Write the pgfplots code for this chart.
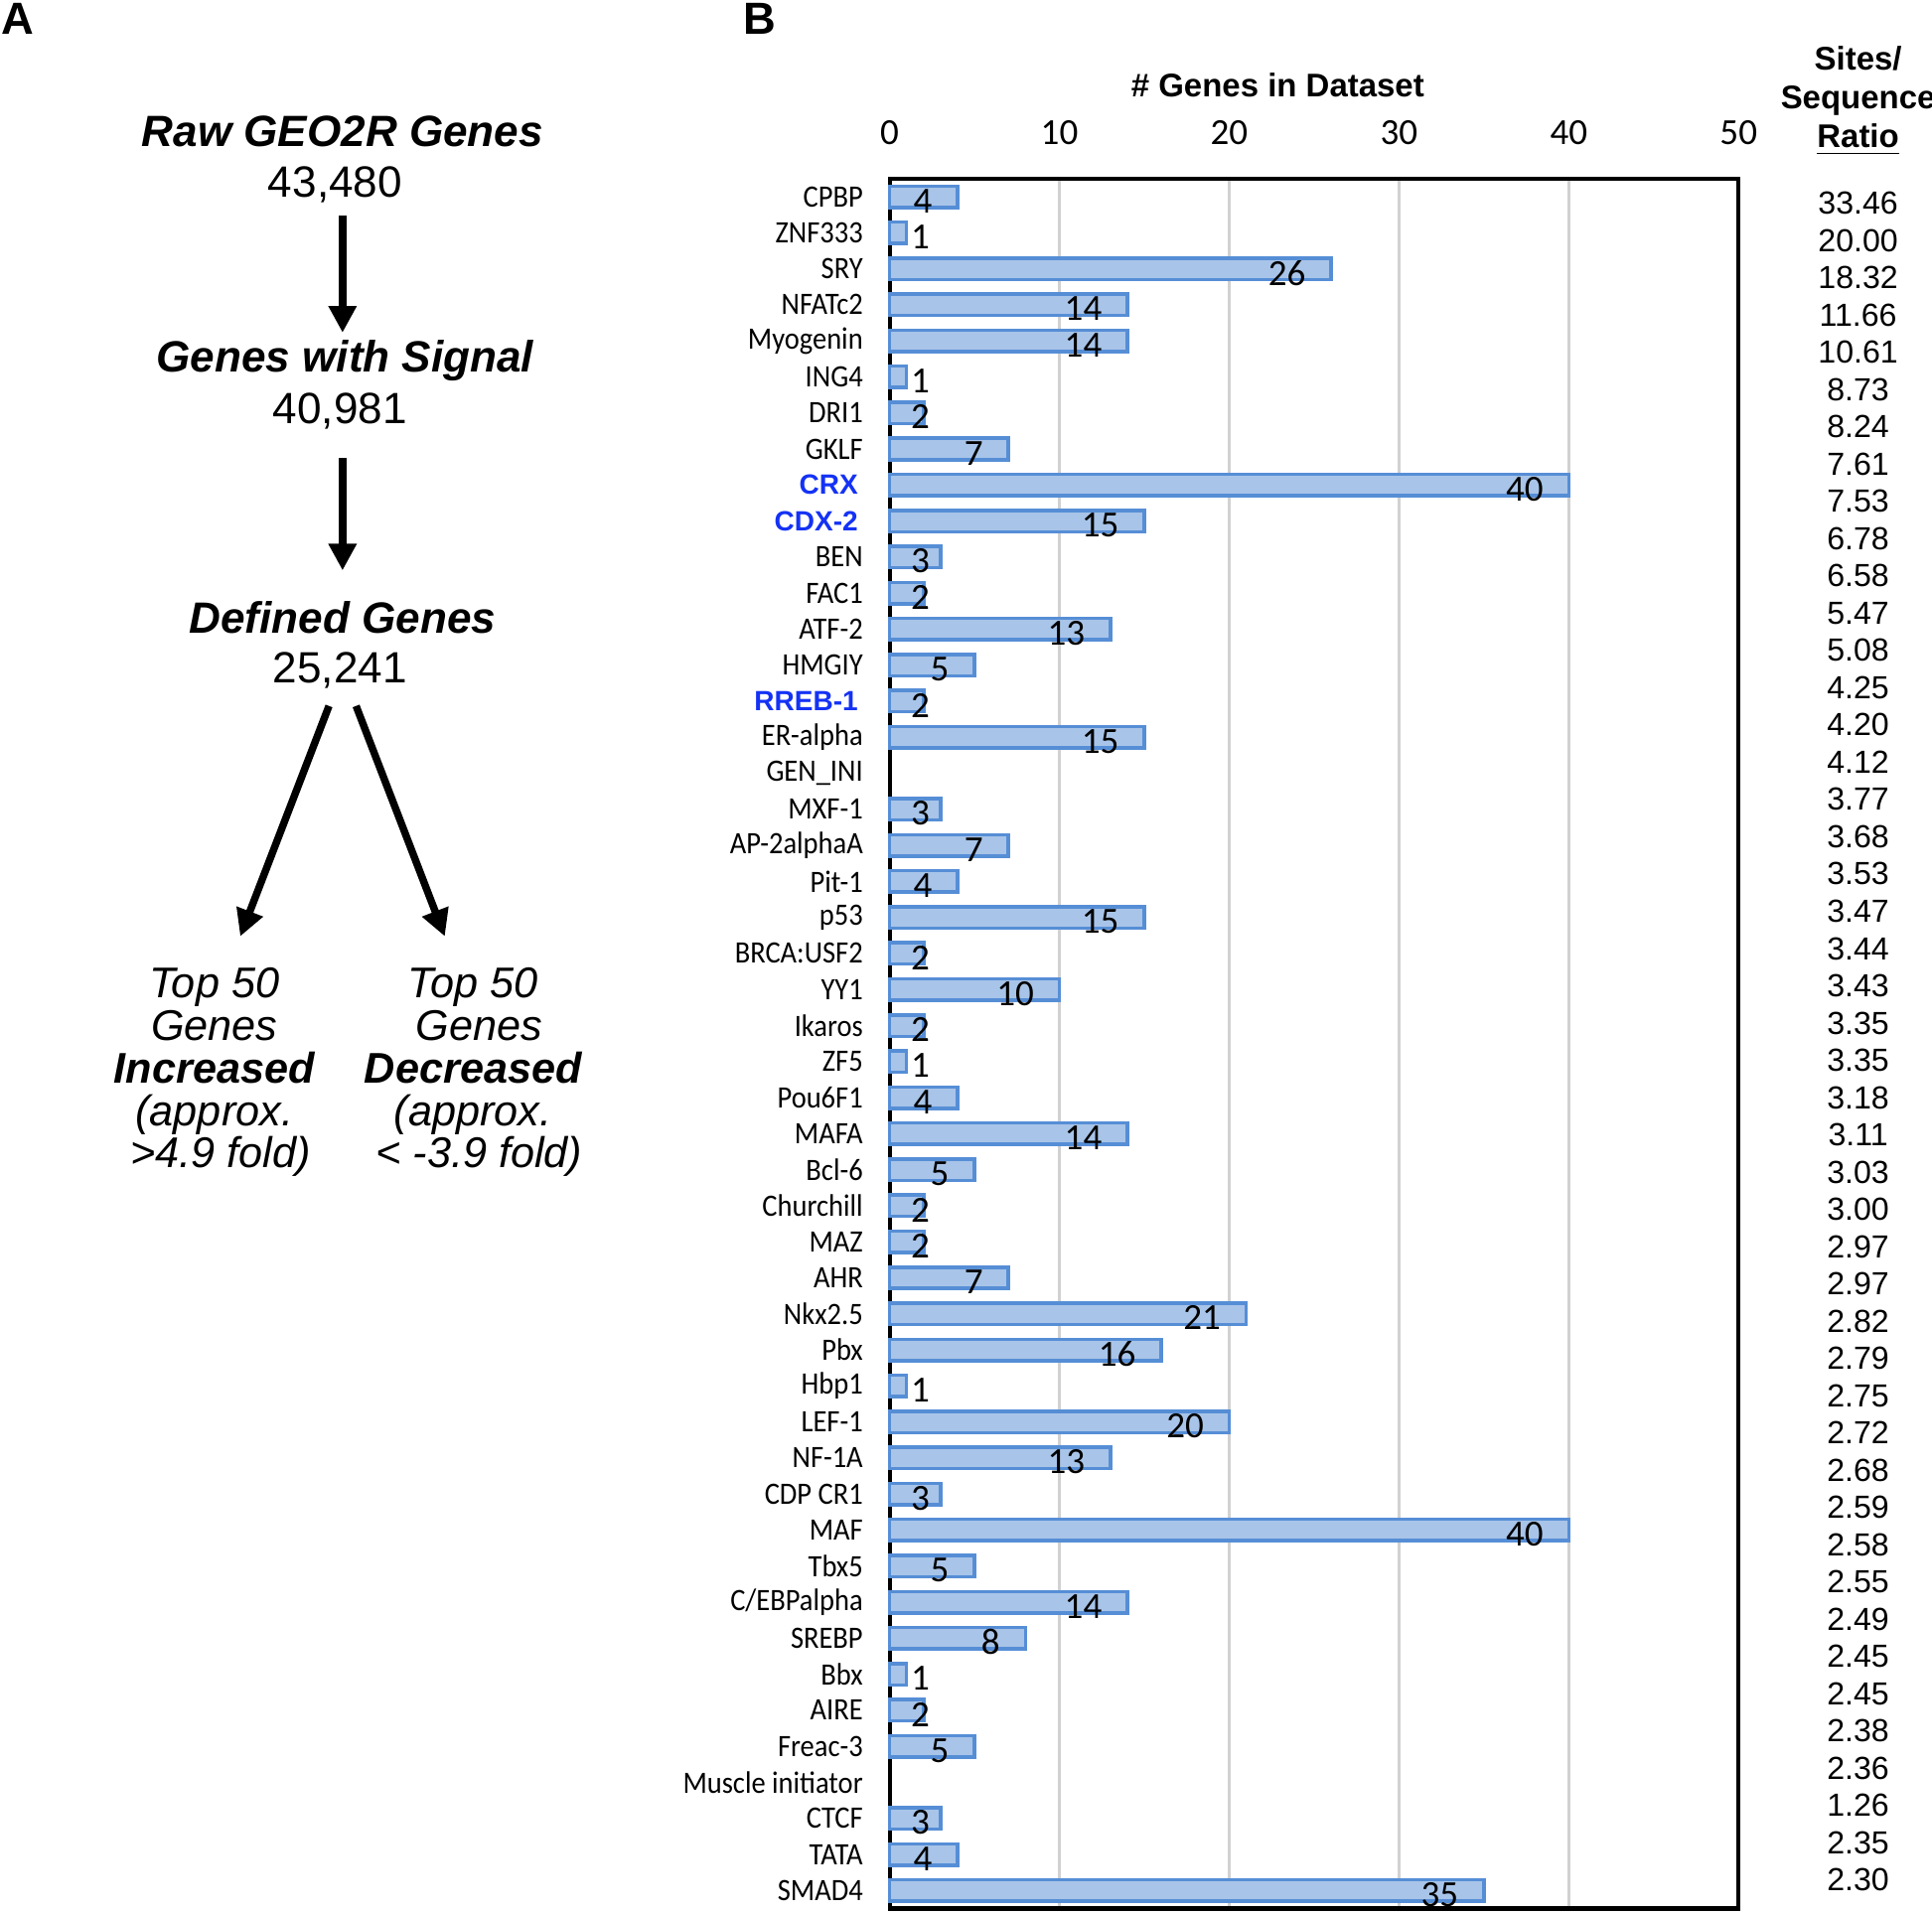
\documentclass[border=0pt]{standalone}
\usepackage{pgfplots}
\pgfplotsset{compat=1.18}
\usepackage{pgfplotstable}
\usetikzlibrary{arrows.meta}
\usepackage{fontspec}
\setmainfont{Liberation Sans}
\newfontfamily\calib{Carlito}
\newfontfamily\calibn[FakeStretch=0.91]{Carlito}

\definecolor{barfill}{RGB}{168,196,232}
\definecolor{bardraw}{RGB}{86,142,214}
\definecolor{tfblue}{RGB}{20,50,245}
\newcommand\bl[1]{{\normalfont\bfseries\fontsize{6.8}{6.8}\selectfont\color{tfblue}#1\hspace{1.2bp}}}

% genes in dataset, top (CPBP, idx 0) to bottom (SMAD4, idx 47)
\pgfplotstableread[row sep=\\]{
idx v\\
0 4\\ 1 1\\ 2 26\\ 3 14\\ 4 14\\ 5 1\\ 6 2\\ 7 7\\ 8 40\\ 9 15\\
10 3\\ 11 2\\ 12 13\\ 13 5\\ 14 2\\ 15 15\\ 16 0\\ 17 3\\ 18 7\\ 19 4\\
20 15\\ 21 2\\ 22 10\\ 23 2\\ 24 1\\ 25 4\\ 26 14\\ 27 5\\ 28 2\\ 29 2\\
30 7\\ 31 21\\ 32 16\\ 33 1\\ 34 20\\ 35 13\\ 36 3\\ 37 40\\ 38 5\\ 39 14\\
40 8\\ 41 1\\ 42 2\\ 43 5\\ 44 0\\ 45 3\\ 46 4\\ 47 35\\
}\genes

\begin{document}
\begin{tikzpicture}
\path[use as bounding box] (0,0) rectangle (470.4bp,465.9bp);

% panel A
\node[font=\bfseries\fontsize{11}{11}\selectfont] at (4.2bp,461.4bp) {A};
\node[font=\bfseries\fontsize{11}{11}\selectfont] at (185.1bp,461.4bp) {B};

\begin{scope}[font=\fontsize{10.7}{10.7}\selectfont]
\node[font=\bfseries\itshape\fontsize{10.7}{10.7}\selectfont] at (83.4bp,433.8bp) {Raw GEO2R Genes};
\node at (81.6bp,421.0bp) {43,480};
\node[font=\bfseries\itshape\fontsize{10.7}{10.7}\selectfont] at (84bp,378.0bp) {Genes with Signal};
\node at (82.8bp,365.7bp) {40,981};
\node[font=\bfseries\itshape\fontsize{10.7}{10.7}\selectfont] at (83.4bp,315.6bp) {Defined Genes};
\node at (82.8bp,302.7bp) {25,241};
\end{scope}

\begin{scope}[line width=1.8bp, -{Triangle[width=6.5bp,length=6.5bp]}]
\draw (83.4bp,413.4bp) -- (83.4bp,384.9bp);
\draw (83.4bp,354.3bp) -- (83.4bp,327.0bp);
\draw (80.1bp,294.0bp) -- (58.5bp,237.9bp);
\draw (86.7bp,294.0bp) -- (108.3bp,237.9bp);
\end{scope}

\node[align=center, font=\itshape\fontsize{10.5}{10.4}\selectfont] at (52.2bp,204.8bp)
  {Top 50\\Genes\\\textbf{Increased}\\(approx.\\\ >4.9 fold)};
\node[align=center, font=\itshape\fontsize{10.5}{10.4}\selectfont] at (115.2bp,204.8bp)
  {Top 50\\\ Genes\\\textbf{Decreased}\\(approx.\\\ < -3.9 fold)};

% panel B
\node[font=\bfseries\fontsize{8}{8}\selectfont] at (311.1bp,445.2bp) {\# Genes in Dataset};

\begin{axis}[
  at={(216.6bp,1.2bp)}, anchor=south west,
  scale only axis, width=206.7bp, height=421.2bp,
  xmin=0, xmax=50, ymin=-0.5, ymax=47.5, y dir=reverse,
  xtick={0,10,...,50}, xticklabel pos=upper,
  ytick={0,...,47},
  yticklabels={CPBP, ZNF333, SRY, NFATc2, Myogenin, ING4, DRI1, GKLF, \bl{CRX}, \bl{CDX-2}, BEN, FAC1, ATF-2, HMGIY, \bl{RREB-1}, ER-alpha, GEN\_INI, MXF-1, AP-2alphaA, Pit-1, p53, BRCA:USF2, YY1, Ikaros, ZF5, Pou6F1, MAFA, Bcl-6, Churchill, MAZ, AHR, Nkx2.5, Pbx, Hbp1, LEF-1, NF-1A, CDP CR1, MAF, Tbx5, C/EBPalpha, SREBP, Bbx, AIRE, Freac-3, Muscle initiator, CTCF, TATA, SMAD4},
  major tick length=0pt,
  xmajorgrids, grid style={black!18, line width=0.6bp},
  axis line style={line width=1bp},
  /pgf/number format/assume math mode=true,
  xticklabel style={font=\calib\fontsize{9}{9}\selectfont, anchor=south, inner sep=0pt, yshift=8bp},
  yticklabel style={font=\calibn\fontsize{7.6}{7.6}\selectfont, anchor=east, inner sep=0pt, xshift=-6.3bp},
  clip=false,
]
\addplot[xbar, bar width=5.2bp, bar shift=0pt, fill=barfill, draw=bardraw, line width=0.85bp,
  restrict x to domain=0.5:100]
  table[x=v, y=idx] {\genes};
\addplot[draw=none, mark=none, restrict x to domain=0:100,
  point meta=explicit,
  nodes near coords={\pgfmathprintnumber{\pgfplotspointmeta}},
  every node near coord/.append style={anchor=east, inner sep=0pt, yshift=-1bp,
    font=\calib\fontsize{9}{9}\selectfont}]
  table[x expr={\thisrow{v}>0 ? max(\thisrow{v}-1.45,2.4) : -10}, y=idx, meta=v] {\genes};
\end{axis}

% ratio column
\node[align=center, font=\bfseries\fontsize{8}{9.5}\selectfont] at (452.4bp,441.3bp)
  {Sites/\\Sequence\\\underline{Ratio}};
\foreach \r [count=\i from 0] in {33.46,20.00,18.32,11.66,10.61,8.73,8.24,7.61,7.53,6.78,6.58,5.47,5.08,4.25,4.20,4.12,3.77,3.68,3.53,3.47,3.44,3.43,3.35,3.35,3.18,3.11,3.03,3.00,2.97,2.97,2.82,2.79,2.75,2.72,2.68,2.59,2.58,2.55,2.49,2.45,2.45,2.38,2.36,1.26,2.35,2.30}
  \node[font=\fontsize{7.8}{7.8}\selectfont] at (452.4bp,{416.4bp-\i*9.073bp}) {\r};
\end{tikzpicture}
\end{document}
